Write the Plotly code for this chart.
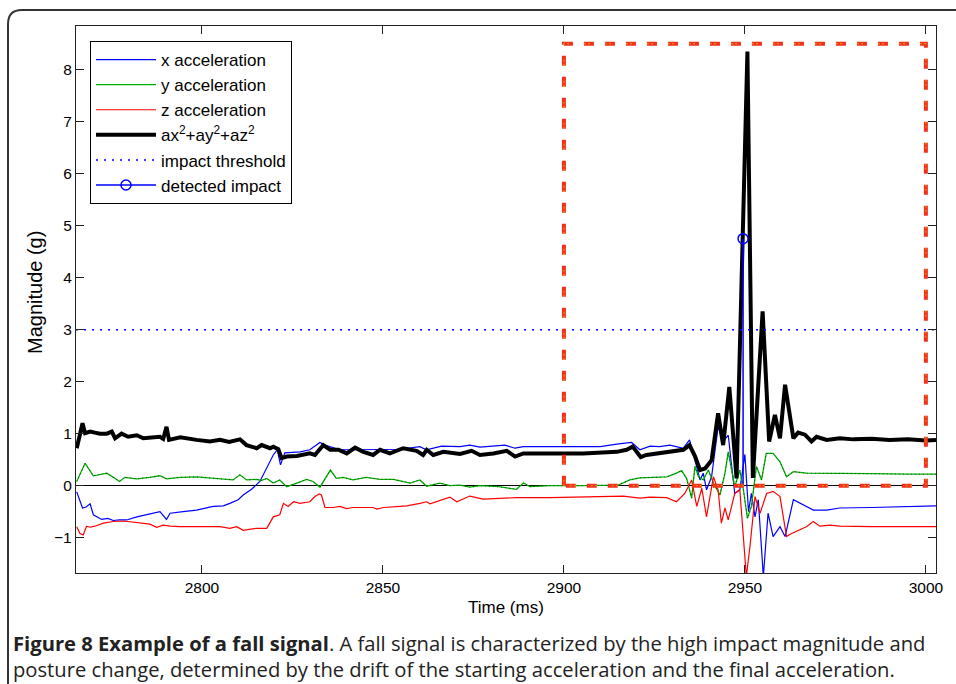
import plotly.graph_objects as go

# ---------------- data ----------------
mag_t = [2765.4, 2767.0, 2767.7, 2769.1, 2770.4, 2771.8, 2773.7, 2775.1, 2776.0, 2777.8,
         2779.6, 2782.0, 2783.8, 2786.0, 2788.4, 2789.3, 2790.2, 2790.9, 2794.0, 2798.5,
         2802.2, 2805.0, 2807.5, 2810.5, 2812.3, 2815.1, 2816.5, 2818.8, 2819.7, 2821.1,
         2822.0, 2823.4, 2826.2, 2829.8, 2831.2, 2833.5, 2835.4, 2837.7, 2840.0, 2842.3,
         2844.6, 2847.3, 2849.2, 2851.9, 2855.6, 2859.3, 2861.1, 2862.1, 2863.9, 2866.7,
         2871.3, 2874.5, 2876.8, 2880.5, 2884.2, 2886.5, 2888.8, 2896.1, 2905.3, 2914.6,
         2917.3, 2919.0, 2921.2, 2922.8, 2928.4, 2933.0, 2934.7, 2936.2, 2937.6, 2939.0,
         2940.8, 2942.6, 2944.0, 2945.7, 2947.7, 2950.7, 2952.2, 2954.9, 2956.7, 2958.3,
         2959.7, 2961.1, 2963.4, 2964.7, 2966.6, 2968.4, 2969.8, 2972.6, 2976.2, 2980.0,
         2985.0, 2990.0, 2995.0, 3000.0, 3002.8]
mag_v = [0.72, 1.20, 1.01, 1.04, 1.02, 1.00, 1.00, 1.04, 0.91, 1.00,
         0.94, 0.97, 0.91, 0.93, 0.94, 0.90, 1.13, 0.88, 0.93, 0.88,
         0.85, 0.88, 0.84, 0.89, 0.78, 0.72, 0.78, 0.72, 0.75, 0.70,
         0.53, 0.56, 0.57, 0.62, 0.59, 0.78, 0.69, 0.69, 0.62, 0.73,
         0.65, 0.59, 0.69, 0.62, 0.72, 0.67, 0.59, 0.69, 0.59, 0.65,
         0.61, 0.67, 0.59, 0.62, 0.67, 0.56, 0.62, 0.62, 0.62, 0.65,
         0.69, 0.75, 0.55, 0.59, 0.64, 0.69, 0.78, 0.57, 0.30, 0.33,
         0.49, 1.39, 0.78, 1.90, 0.14, 8.35, 0.15, 3.35, 0.85, 1.36,
         0.91, 1.94, 0.91, 1.02, 0.98, 0.85, 0.94, 0.88, 0.91, 0.89,
         0.90, 0.88, 0.89, 0.87, 0.88]

ax_t = [2765.4, 2767.0, 2768.0, 2769.1, 2770.0, 2772.3, 2774.0, 2775.5, 2777.2, 2779.2,
        2782.0, 2785.6, 2788.4, 2790.2, 2791.2, 2794.8, 2798.5, 2803.1, 2805.9, 2807.7,
        2810.0, 2811.4, 2813.7, 2816.0, 2817.9, 2819.7, 2820.8, 2821.7, 2822.9, 2827.1,
        2829.8, 2832.6, 2834.0, 2838.1, 2843.6, 2849.2, 2854.7, 2860.2, 2862.0, 2866.2,
        2871.3, 2874.0, 2876.8, 2883.7, 2886.5, 2888.8, 2900.0, 2910.0, 2914.6, 2918.7,
        2921.0, 2923.8, 2926.5, 2929.3, 2933.0, 2934.7, 2936.2, 2937.6, 2938.5, 2939.4,
        2940.8, 2942.6, 2944.0, 2945.4, 2947.2, 2948.6, 2950.0, 2951.0, 2951.8, 2952.8,
        2953.7, 2955.1, 2956.4, 2957.8, 2959.7, 2961.1, 2963.4, 2966.1, 2968.9, 2972.6,
        2976.2, 2985.0, 2995.0, 3002.8]
ax_v = [-0.12, -0.43, -0.41, -0.35, -0.56, -0.65, -0.63, -0.67, -0.66, -0.66,
        -0.60, -0.54, -0.50, -0.65, -0.53, -0.50, -0.47, -0.40, -0.39, -0.34,
        -0.27, -0.18, -0.07, 0.08, 0.33, 0.59, 0.69, 0.40, 0.63, 0.65,
        0.69, 0.83, 0.78, 0.69, 0.69, 0.70, 0.70, 0.75, 0.69, 0.76,
        0.75, 0.78, 0.74, 0.78, 0.72, 0.75, 0.75, 0.75, 0.80, 0.83,
        0.69, 0.76, 0.75, 0.78, 0.72, 0.88, 0.49, 0.11, 0.24, -0.08,
        0.17, 1.13, 0.85, 0.97, -0.15, -0.08, 0.60, -0.50, -0.15, -0.60,
        -0.27, -1.75, -0.53, -0.98, -0.79, -0.98, -0.27, -0.37, -0.47, -0.47,
        -0.43, -0.42, -0.40, -0.39]

ay_t = [2765.4, 2767.7, 2770.0, 2771.8, 2773.7, 2775.5, 2777.2, 2778.7, 2782.0, 2785.6,
        2788.4, 2790.2, 2794.0, 2798.5, 2804.0, 2808.6, 2810.5, 2812.3, 2815.0, 2816.5,
        2817.9, 2819.7, 2821.5, 2823.4, 2826.2, 2828.9, 2830.7, 2832.6, 2835.5, 2837.1,
        2839.0, 2841.7, 2845.4, 2849.2, 2852.9, 2855.6, 2857.5, 2860.2, 2862.1, 2865.7,
        2868.5, 2871.3, 2874.0, 2876.8, 2882.0, 2886.9, 2888.8, 2890.6, 2896.1, 2905.0,
        2915.0, 2918.2, 2921.0, 2924.7, 2928.4, 2931.1, 2932.5, 2933.9, 2935.3, 2936.2,
        2937.2, 2938.5, 2939.9, 2941.3, 2943.1, 2944.5, 2945.4, 2947.2, 2948.6, 2949.6,
        2950.7, 2951.8, 2953.2, 2954.6, 2955.9, 2957.8, 2959.7, 2961.5, 2963.4, 2967.0,
        2976.2, 2985.0, 2995.0, 3002.8]
ay_v = [0.08, 0.43, 0.19, 0.22, 0.24, 0.16, 0.08, 0.16, 0.13, 0.16,
        0.19, 0.13, 0.16, 0.17, 0.14, 0.11, 0.21, 0.11, 0.12, 0.10,
        0.14, 0.05, 0.11, -0.02, 0.05, 0.12, 0.08, -0.03, 0.30, 0.14,
        0.16, 0.11, 0.16, 0.12, 0.12, 0.08, 0.05, 0.11, -0.01, 0.05,
        0.00, 0.01, -0.03, 0.00, -0.02, -0.07, 0.05, -0.02, 0.00, 0.00,
        0.01, 0.11, 0.15, 0.16, 0.17, 0.24, 0.29, 0.14, -0.24, 0.37,
        0.17, 0.11, 0.30, 0.05, -0.18, 0.24, 0.65, -0.02, 0.30, -0.08,
        -0.63, -0.40, 0.37, 0.11, 0.62, 0.62, 0.46, 0.17, 0.27, 0.24,
        0.24, 0.23, 0.22, 0.22]

az_t = [2765.4, 2766.3, 2767.2, 2768.1, 2769.1, 2770.4, 2772.8, 2775.5, 2778.3, 2782.0,
        2785.6, 2787.5, 2789.3, 2791.2, 2794.0, 2800.5, 2805.0, 2807.7, 2809.6, 2811.4,
        2815.1, 2817.9, 2819.7, 2821.5, 2822.5, 2823.8, 2825.3, 2827.1, 2829.8, 2831.2,
        2832.4, 2833.0, 2834.0, 2836.3, 2838.1, 2840.0, 2841.7, 2843.6, 2847.3, 2848.3,
        2850.2, 2854.7, 2856.6, 2860.2, 2862.1, 2863.0, 2864.8, 2866.7, 2868.5, 2870.4,
        2874.0, 2877.7, 2886.9, 2896.1, 2905.3, 2916.4, 2921.0, 2923.8, 2928.4, 2931.1,
        2933.4, 2935.3, 2936.7, 2938.1, 2939.4, 2941.3, 2942.6, 2943.5, 2944.5, 2945.4,
        2947.2, 2948.6, 2950.4, 2951.4, 2952.8, 2954.2, 2956.0, 2957.8, 2959.7, 2961.5,
        2962.9, 2964.3, 2967.0, 2968.9, 2970.7, 2973.5, 2976.2, 2985.0, 2995.0, 3002.8]
az_v = [-0.79, -0.92, -0.95, -0.78, -0.80, -0.78, -0.72, -0.69, -0.68, -0.71,
        -0.74, -0.80, -0.76, -0.78, -0.79, -0.79, -0.79, -0.82, -0.79, -0.86,
        -0.82, -0.82, -0.60, -0.56, -0.34, -0.40, -0.31, -0.34, -0.31, -0.21,
        -0.16, -0.18, -0.42, -0.42, -0.40, -0.44, -0.42, -0.42, -0.42, -0.45,
        -0.42, -0.40, -0.39, -0.34, -0.31, -0.35, -0.31, -0.26, -0.22, -0.31,
        -0.20, -0.26, -0.23, -0.23, -0.22, -0.20, -0.24, -0.22, -0.23, -0.31,
        -0.15, 0.11, -0.40, -0.05, -0.60, 0.17, -0.08, -0.72, -0.43, -0.66,
        -0.15, -0.08, -1.75, -1.17, -0.21, -0.53, -0.15, -0.11, -0.21, -0.98,
        -0.92, -0.88, -0.79, -0.69, -0.78, -0.76, -0.78, -0.79, -0.79, -0.79]

impact_threshold = 3.0
impact_time = 2949.5
impact_value = 4.75

window_t = [2900, 2900, 3000, 3000, 2900]
window_v = [0, 8.5, 8.5, 0, 0]

x_range = [2765.2, 3002.8]
y_range = [-1.68, 8.84]
x_ticks = [2800, 2850, 2900, 2950, 3000]
y_ticks = [-1, 0, 1, 2, 3, 4, 5, 6, 7, 8]

caption = ("<b>Figure 8 Example of a fall signal</b>. A fall signal is characterized by the high impact magnitude and"
           "<br>posture change, determined by the drift of the starting acceleration and the final acceleration.")

# ---------------- figure ----------------
FONT = "Liberation Sans, Arial, sans-serif"
CAP_FONT = "Open Sans"
L, R, T, B = 76, 20, 26, 111
W, H = 956, 684
PW, PH = W - L - R, H - T - B


def px_x(p):
    return (p - L) / PW


def px_y(p):
    return (H - B - p) / PH


fig = go.Figure()

fig.add_trace(go.Scatter(x=ax_t, y=ax_v, mode="lines", name="x acceleration",
                         legendgroup="a", line=dict(color="#0000ff", width=1.2)))
fig.add_trace(go.Scatter(x=ay_t, y=ay_v, mode="lines", name="y acceleration",
                         legendgroup="b", line=dict(color="#00b000", width=1.3)))
fig.add_trace(go.Scatter(x=ay_t, y=ay_v, mode="lines", showlegend=False,
                         legendgroup="b",
                         line=dict(color="rgba(0,0,0,0.55)", width=1, dash="1px,3px")))
fig.add_trace(go.Scatter(x=az_t, y=az_v, mode="lines", name="z acceleration",
                         legendgroup="c", line=dict(color="#ff0000", width=1.2)))
fig.add_trace(go.Scatter(x=mag_t, y=mag_v, mode="lines",
                         name="ax<sup>2</sup>+ay<sup>2</sup>+az<sup>2</sup>",
                         legendgroup="d", line=dict(color="#000000", width=4)))
fig.add_trace(go.Scatter(x=x_range, y=[impact_threshold, impact_threshold], mode="lines",
                         name="impact threshold", legendgroup="e",
                         line=dict(color="#0000ff", width=1.5, dash="2px,6px")))
fig.add_trace(go.Scatter(x=[impact_time, impact_time], y=[0, impact_value], mode="lines",
                         showlegend=False, legendgroup="f",
                         line=dict(color="#0000ff", width=1.5)))
fig.add_trace(go.Scatter(x=[impact_time], y=[impact_value], mode="lines+markers",
                         name="detected impact", legendgroup="f",
                         line=dict(color="#0000ff", width=1.5),
                         marker=dict(symbol="circle-open", size=10, color="#0000ff",
                                     line=dict(width=1.5, color="#0000ff"))))
# dashed analysis window (red with yellow speckle)
fig.add_trace(go.Scatter(x=window_t, y=window_v, mode="lines", showlegend=False,
                         line=dict(color="#f2301c", width=4, dash="10px,11px")))
fig.add_trace(go.Scatter(x=window_t, y=window_v, mode="lines", showlegend=False,
                         line=dict(color="rgba(220,210,0,0.6)", width=1.2, dash="2px,2px,2px,15px")))

axis_common = dict(showline=True, linecolor="#222222", linewidth=1.3, mirror="ticks",
                   ticks="inside", ticklen=8, tickwidth=1.2, tickcolor="#222222",
                   showgrid=False, tickfont=dict(family=FONT, size=15.5, color="#000000"))

fig.update_xaxes(range=x_range, tickvals=x_ticks, zeroline=False, **axis_common)
fig.update_yaxes(range=y_range, tickvals=y_ticks, zeroline=True, zerolinecolor="#000000",
                 zerolinewidth=1.2, **axis_common)

# rounded outer frame (partially visible)
fl, ft, rad = 8, 10, 14
frame_path = (f"M {px_x(fl)},{px_y(H + 20)} L {px_x(fl)},{px_y(ft + rad)} "
              f"Q {px_x(fl)},{px_y(ft)} {px_x(fl + rad)},{px_y(ft)} L {px_x(W + 20)},{px_y(ft)}")

fig.update_layout(
    width=W, height=H,
    margin=dict(l=L, r=R, t=T, b=B),
    paper_bgcolor="white", plot_bgcolor="white",
    font=dict(family=FONT, size=15, color="#000000"),
    showlegend=True,
    legend=dict(x=px_x(90), y=px_y(41), xanchor="left", yanchor="top",
                bgcolor="white", bordercolor="#000000", borderwidth=1,
                font=dict(family=FONT, size=17, color="#000000"),
                traceorder="grouped", tracegroupgap=0, itemwidth=60),
    shapes=[dict(type="path", xref="paper", yref="paper", path=frame_path,
                 line=dict(color="#333333", width=2), layer="above")],
    annotations=[
        dict(text="Time (ms)", xref="paper", yref="paper", x=0.5, y=px_y(607),
             xanchor="center", yanchor="middle", showarrow=False,
             font=dict(family=FONT, size=17, color="#000000")),
        dict(text="Magnitude (g)", xref="paper", yref="paper", x=px_x(35), y=px_y(293),
             xanchor="center", yanchor="middle", showarrow=False, textangle=-90,
             font=dict(family=FONT, size=20, color="#000000")),
        dict(text=caption,
             xref="paper", yref="paper", x=px_x(11), y=px_y(656),
             xanchor="left", yanchor="middle", showarrow=False, align="left",
             font=dict(family=CAP_FONT, size=20.2, color="#222222")),
    ],
)

fig.write_html("out.html")
